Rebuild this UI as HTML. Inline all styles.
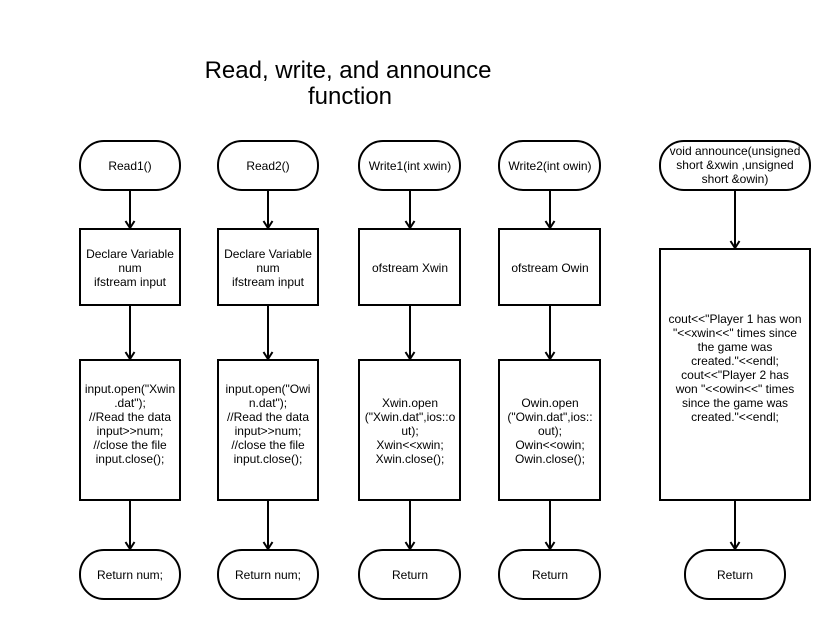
<!DOCTYPE html>
<html><head><style>html,body{margin:0;padding:0;background:#fff}svg{display:block}</style></head><body>
<svg width="830" height="620" xmlns="http://www.w3.org/2000/svg" font-family="Liberation Sans, Arial, sans-serif">
<defs><marker id="a" markerWidth="12" markerHeight="12" refX="9" refY="6" orient="auto" markerUnits="userSpaceOnUse"><path d="M2,1.5 L9,6 L2,10.5" fill="none" stroke="#000" stroke-width="2"/></marker></defs>
<rect width="830" height="620" fill="#fff"/>
<text x="348" y="78" font-size="24" text-anchor="middle">Read, write, and announce</text>
<text x="350" y="104" font-size="24" text-anchor="middle">function</text>
<g fill="#fff" stroke="#000" stroke-width="2">
<rect x="80" y="141" width="100" height="49" rx="24"/>
<rect x="218" y="141" width="100" height="49" rx="24"/>
<rect x="359" y="141" width="101" height="49" rx="24"/>
<rect x="499" y="141" width="101" height="49" rx="24"/>
<rect x="660" y="141" width="150" height="49" rx="24"/>
<rect x="80" y="229" width="100" height="76"/>
<rect x="218" y="229" width="100" height="76"/>
<rect x="359" y="229" width="101" height="76"/>
<rect x="499" y="229" width="101" height="76"/>
<rect x="80" y="360" width="100" height="140"/>
<rect x="218" y="360" width="100" height="140"/>
<rect x="359" y="360" width="101" height="140"/>
<rect x="499" y="360" width="101" height="140"/>
<rect x="660" y="249" width="150" height="251"/>
<rect x="80" y="550" width="100" height="49" rx="24"/>
<rect x="218" y="550" width="100" height="49" rx="24"/>
<rect x="359" y="550" width="101" height="49" rx="24"/>
<rect x="499" y="550" width="101" height="49" rx="24"/>
<rect x="685" y="550" width="100" height="49" rx="24"/>
</g>
<g stroke="#000" stroke-width="2" marker-end="url(#a)">
<line x1="130" y1="190" x2="130" y2="228"/><line x1="130" y1="305" x2="130" y2="359"/><line x1="130" y1="500" x2="130" y2="549"/>
<line x1="268" y1="190" x2="268" y2="228"/><line x1="268" y1="305" x2="268" y2="359"/><line x1="268" y1="500" x2="268" y2="549"/>
<line x1="410" y1="190" x2="410" y2="228"/><line x1="410" y1="305" x2="410" y2="359"/><line x1="410" y1="500" x2="410" y2="549"/>
<line x1="550" y1="190" x2="550" y2="228"/><line x1="550" y1="305" x2="550" y2="359"/><line x1="550" y1="500" x2="550" y2="549"/>
<line x1="735" y1="190" x2="735" y2="248"/><line x1="735" y1="500" x2="735" y2="549"/>
</g>
<g font-size="12" text-anchor="middle" fill="#000">
<text x="130" y="170">Read1()</text>
<text x="268" y="170">Read2()</text>
<text x="410" y="170">Write1(int xwin)</text>
<text x="550" y="170">Write2(int owin)</text>
<text x="735" y="155">void announce(unsigned</text>
<text x="735" y="169">short &amp;xwin ,unsigned</text>
<text x="735" y="183">short &amp;owin)</text>
<text x="130" y="258">Declare Variable</text><text x="130" y="272">num</text><text x="130" y="286">ifstream input</text>
<text x="268" y="258">Declare Variable</text><text x="268" y="272">num</text><text x="268" y="286">ifstream input</text>
<text x="410" y="272">ofstream Xwin</text>
<text x="550" y="272">ofstream Owin</text>
<text x="130" y="393">input.open("Xwin</text><text x="130" y="407">.dat");</text><text x="130" y="421">//Read the data</text><text x="130" y="435">input&gt;&gt;num;</text><text x="130" y="449">//close the file</text><text x="130" y="463">input.close();</text>
<text x="268" y="393">input.open("Owi</text><text x="268" y="407">n.dat");</text><text x="268" y="421">//Read the data</text><text x="268" y="435">input&gt;&gt;num;</text><text x="268" y="449">//close the file</text><text x="268" y="463">input.close();</text>
<text x="410" y="407">Xwin.open</text><text x="410" y="421">("Xwin.dat",ios::o</text><text x="410" y="435">ut);</text><text x="410" y="449">Xwin&lt;&lt;xwin;</text><text x="410" y="463">Xwin.close();</text>
<text x="550" y="407">Owin.open</text><text x="550" y="421">("Owin.dat",ios::</text><text x="550" y="435">out);</text><text x="550" y="449">Owin&lt;&lt;owin;</text><text x="550" y="463">Owin.close();</text>
<text x="735" y="323">cout&lt;&lt;"Player 1 has won</text><text x="735" y="337">"&lt;&lt;xwin&lt;&lt;" times since</text><text x="735" y="351">the game was</text><text x="735" y="365">created."&lt;&lt;endl;</text><text x="735" y="379">cout&lt;&lt;"Player 2 has</text><text x="735" y="393">won "&lt;&lt;owin&lt;&lt;" times</text><text x="735" y="407">since the game was</text><text x="735" y="421">created."&lt;&lt;endl;</text>
<text x="130" y="579">Return num;</text>
<text x="268" y="579">Return num;</text>
<text x="410" y="579">Return</text>
<text x="550" y="579">Return</text>
<text x="735" y="579">Return</text>
</g>
</svg>
</body></html>
